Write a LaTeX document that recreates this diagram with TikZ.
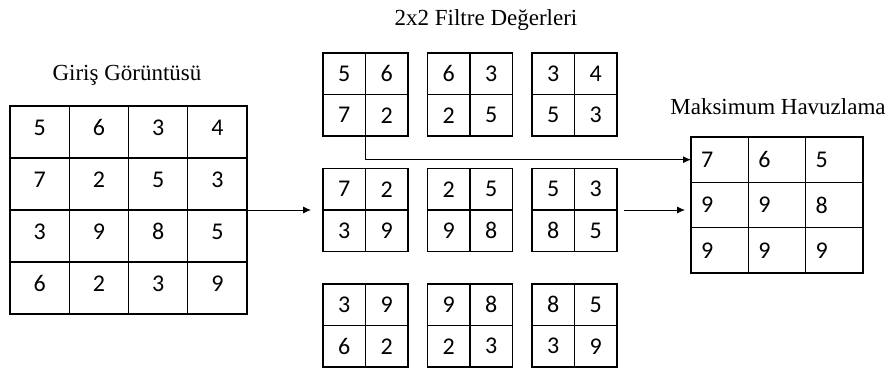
\documentclass[tikz,border=0pt]{standalone}
\usepackage{fontspec}
\setmainfont{Liberation Serif}
\newfontfamily\numfont{Carlito}
\usetikzlibrary{arrows.meta}

\tikzset{
  incell/.style={draw, line width=1.2pt, minimum width=59.25pt, minimum height=52pt,
    inner sep=0pt, outer sep=0pt, anchor=north west, text depth=9pt,
    font=\numfont\fontsize{24}{28}\selectfont},
  fcell/.style={draw, line width=1.2pt, minimum width=42.5pt, minimum height=41.5pt,
    inner sep=0pt, outer sep=0pt, anchor=north west,
    font=\numfont\fontsize{24}{28}\selectfont},
  mcell/.style={draw, line width=1.2pt, minimum height=45.33pt, text width=37.33pt,
    inner xsep=10pt, inner ysep=0pt, outer sep=0pt, align=left, anchor=north west,
    font=\numfont\fontsize{24}{28}\selectfont},
  title/.style={font=\fontsize{23}{27}\selectfont},
  link/.style={line width=0.9pt, -{Latex[length=8pt,width=7pt]}}
}

\begin{document}
\begin{tikzpicture}[x=1pt,y=-1pt]
\useasboundingbox (0,0) rectangle (892,367);

% input image, 4x4
\node[title] (in-title) at (127,75) {Giriş Görüntüsü};
\foreach \v [count=\i from 0] in {5,6,3,4,7,2,5,3,3,9,8,5,6,2,3,9} {
  \pgfmathtruncatemacro\row{\i/4}
  \pgfmathtruncatemacro\col{mod(\i,4)}
  \node[incell] (in-\row-\col) at (10+59.25*\col, 106+52*\row) {\v};
}

% the nine 2x2 windows
\node[title] (f-title) at (486,20) {2x2 Filtre Değerleri};
\foreach \br/\bc/\va/\vb/\vc/\vd in {0/0/5/6/7/2, 0/1/6/3/2/5, 0/2/3/4/5/3,
    1/0/7/2/3/9, 1/1/2/5/9/8, 1/2/5/3/8/5, 2/0/3/9/6/2, 2/1/9/8/2/3, 2/2/8/5/3/9} {
  \node[fcell] (f\br\bc-1) at (323+104.5*\bc, 53+115.5*\br) {\va};
  \node[fcell] (f\br\bc-2) at (f\br\bc-1.north east) {\vb};
  \node[fcell] (f\br\bc-3) at (f\br\bc-1.south west) {\vc};
  \node[fcell] (f\br\bc-4) at (f\br\bc-1.south east) {\vd};
}

% max pooling result, 3x3
\node[title] (mp-title) at (778,107) {Maksimum Havuzlama};
\foreach \v [count=\i from 0] in {7,6,5,9,9,8,9,9,9} {
  \pgfmathtruncatemacro\row{\i/3}
  \pgfmathtruncatemacro\col{mod(\i,3)}
  \node[mcell] (mp-\row-\col) at (691+57.33*\col, 137+45.33*\row) {\v};
}

% arrows
\draw[link, shorten >=12pt] (in-1-3.south east) -- (f10-1.south west);
\draw[link, shorten <=7pt, shorten >=6pt] (f12-2.south east) -- (f12-2.south east -| mp-1-0.west);
\draw[link] (f00-3.south east) |- (mp-0-0.west);

\end{tikzpicture}
\end{document}
